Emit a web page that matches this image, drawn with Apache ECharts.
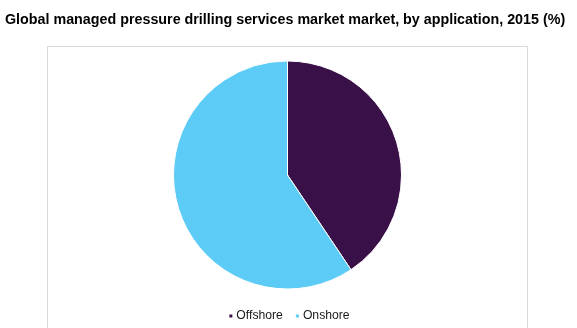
<!DOCTYPE html>
<html><head><meta charset="utf-8">
<script src="https://cdn.jsdelivr.net/npm/echarts@6/dist/echarts.min.js"></script>
<style>html,body{margin:0;padding:0;background:#fff}#c{width:577px;height:328px}</style>
</head><body><div id="c"></div>
<script>
var categories = ['Offshore', 'Onshore'];
var values = [40.6, 59.4];
var colors = ['#3a1048', '#5ccbf5'];
var chart = echarts.init(document.getElementById('c'));
chart.setOption({
  animation: false,
  title: {
    text: 'Global managed pressure drilling services market market, by application, 2015 (%)',
    left: 0, top: 8,
    textStyle: {fontFamily: 'Liberation Sans', fontSize: 14.3, fontWeight: 'bold', color: '#000'}
  },
  graphic: [{
    type: 'rect', shape: {x: 47.5, y: 46.5, width: 480, height: 300},
    style: {fill: 'none', stroke: '#d9d9d9', lineWidth: 1}, silent: true
  }],
  legend: {
    bottom: 1, left: 'center', itemWidth: 5, itemHeight: 5, itemGap: 11,
    icon: 'rect',
    textStyle: {fontFamily: 'Liberation Sans', fontSize: 12.2, color: '#1a1a1a', padding: [0, 0, 0, -2]},
    data: categories
  },
  series: [{
    type: 'pie', center: [287.5, 175], radius: 114,
    startAngle: 90, clockwise: true,
    label: {show: false}, labelLine: {show: false},
    itemStyle: {borderColor: '#fff', borderWidth: 1},
    data: categories.map(function (c, i) { return {name: c, value: values[i], itemStyle: {color: colors[i]}}; })
  }]
});
</script></body></html>
